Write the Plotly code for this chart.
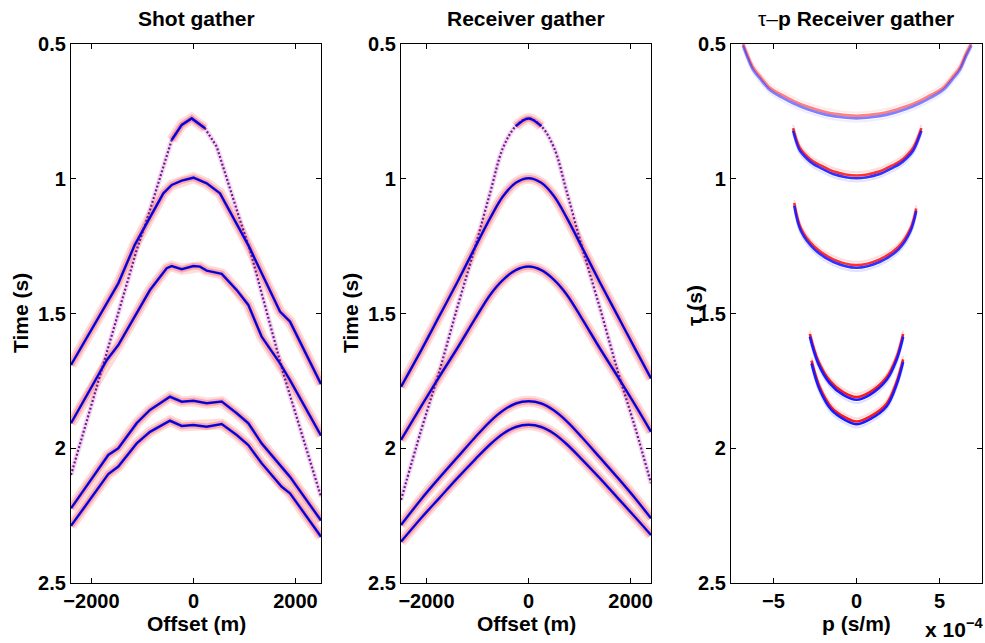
import plotly.graph_objects as go

# ---------------- data ----------------
# Shot gather: offset (m) / time (s) per event
shot_e1_off = [-2400, -1112, -852, -426, -230, -35, 226, 456, 912, 1108, 1761, 2500]
shot_e1_t   = [2.099, 1.264, 1.116, 0.856, 0.800, 0.776, 0.813, 0.881, 1.153, 1.264, 1.722, 2.180]
shot_e2_off = [-2400, -1473, -1150, -900, -590, -426, -230, 0, 260, 520, 800, 1090, 1696, 1892, 2500]
shot_e2_t   = [1.691, 1.388, 1.245, 1.160, 1.054, 1.023, 1.007, 0.996, 1.017, 1.054, 1.150, 1.252, 1.493, 1.530, 1.762]
shot_e3_off = [-2400, -1700, -1473, -1112, -852, -524, -426, -230, 0, 128, 260, 554, 848, 1075, 1337, 1696, 1892, 2500]
shot_e3_t   = [1.907, 1.673, 1.617, 1.499, 1.413, 1.332, 1.324, 1.336, 1.324, 1.326, 1.341, 1.353, 1.413, 1.468, 1.586, 1.685, 1.747, 1.953]
shot_e45_off = [-2400, -1669, -1473, -1112, -852, -460, -230, 0, 260, 554, 848, 1075, 1337, 1730, 1892, 2500]
shot_e4_t   = [2.223, 2.025, 2.000, 1.907, 1.858, 1.809, 1.827, 1.824, 1.833, 1.827, 1.870, 1.907, 1.982, 2.068, 2.106, 2.268]
shot_e5_t   = [2.288, 2.096, 2.068, 1.982, 1.939, 1.898, 1.917, 1.914, 1.920, 1.910, 1.951, 1.988, 2.056, 2.143, 2.167, 2.328]

# Receiver gather
rcv_off = [-2500, -2100, -1750, -1400, -1050, -750, -500, -250, 0, 250, 500, 750, 1050, 1400, 1750, 2100, 2400]
rcv_e1_t = [2.192, 1.930, 1.715, 1.480, 1.255, 1.050, 0.885, 0.805, 0.776, 0.805, 0.885, 1.050, 1.255, 1.480, 1.715, 1.930, 2.130]
rcv_e2_t = [1.772, 1.635, 1.510, 1.385, 1.255, 1.145, 1.065, 1.015, 0.998, 1.015, 1.065, 1.145, 1.255, 1.385, 1.510, 1.635, 1.741]
rcv_e3_t = [1.969, 1.843, 1.735, 1.630, 1.520, 1.430, 1.375, 1.339, 1.326, 1.339, 1.375, 1.430, 1.520, 1.630, 1.735, 1.843, 1.939]
rcv_e4_t = [2.285, 2.188, 2.110, 2.035, 1.960, 1.900, 1.860, 1.834, 1.826, 1.834, 1.860, 1.900, 1.960, 2.035, 2.110, 2.188, 2.260]
rcv_e5_t = [2.347, 2.258, 2.185, 2.112, 2.042, 1.985, 1.946, 1.921, 1.913, 1.921, 1.946, 1.985, 2.042, 2.112, 2.185, 2.258, 2.322]

# tau-p receiver gather: p in units of 1e-4 s/m, tau (s) of the blue lobe
tp1_p   = [-6.85, -6.6, -6.23, -5.8, -5.22, -4.5, -3.82, -3.0, -1.81, -0.9, 0, 0.9, 1.81, 3.0, 3.82, 4.5, 5.22, 5.8, 6.23, 6.6, 6.93]
tp1_tau = [0.505, 0.545, 0.596, 0.630, 0.671, 0.698, 0.720, 0.741, 0.763, 0.772, 0.776, 0.772, 0.763, 0.741, 0.720, 0.698, 0.671, 0.630, 0.596, 0.545, 0.505]
tp2_p   = [-3.82, -3.42, -3.0, -2.61, -2.0, -1.41, 0, 1.41, 2.0, 2.61, 3.0, 3.42, 3.91]
tp2_tau = [0.822, 0.895, 0.925, 0.945, 0.965, 0.982, 0.998, 0.982, 0.965, 0.945, 0.925, 0.895, 0.822]
tp3_p   = [-3.75, -3.34, -2.55, -1.39, 0, 1.39, 2.55, 3.25, 3.6]
tp3_tau = [1.100, 1.195, 1.261, 1.309, 1.330, 1.309, 1.261, 1.195, 1.120]
tp4_p   = [-2.81, -2.31, -1.61, -0.8, 0, 0.8, 1.81, 2.41, 2.81]
tp4_tau = [1.586, 1.685, 1.759, 1.802, 1.820, 1.802, 1.747, 1.673, 1.586]
tp5_p   = [-2.71, -2.21, -1.51, -0.7, 0, 0.8, 1.81, 2.41, 2.81]
tp5_tau = [1.685, 1.784, 1.858, 1.895, 1.911, 1.893, 1.845, 1.765, 1.680]

x_ticks_off = [-2000, 0, 2000]
x_ticks_p = [-5, 0, 5]
y_ticks = [0.5, 1, 1.5, 2, 2.5]
y_ticktext = ["0.5", "1", "1.5", "2", "2.5"]

# ---------------- figure ----------------
W, H = 985, 643
fig = go.Figure()

HALO_OUT = "rgba(255,150,150,0.33)"
HALO_IN = "rgba(255,100,100,0.45)"
BLUE = "#0a0aff"
NAVY = "rgba(0,0,90,0.8)"
PURP = "#62208f"


def line(x, y, xa, ya, color, width, shape="linear", dash="solid", opacity=1.0):
    fig.add_trace(go.Scatter(x=x, y=y, mode="lines", xaxis=xa, yaxis=ya,
                             line=dict(color=color, width=width, shape=shape, dash=dash),
                             opacity=opacity, hoverinfo="skip", showlegend=False))


def seg(xs, ys, lo, hi):
    pts = [(a, b) for a, b in zip(xs, ys) if lo <= a <= hi]
    return [p[0] for p in pts], [p[1] for p in pts]


def halo(xs, ys, xa, ya, shape="linear"):
    line(xs, ys, xa, ya, HALO_OUT, 11, shape=shape)
    line(xs, ys, xa, ya, HALO_IN, 6.5, shape=shape)


def core(xs, ys, xa, ya, shape="linear"):
    line(xs, ys, xa, ya, BLUE, 2.5, shape=shape)
    line(xs, ys, xa, ya, NAVY, 0.7, shape=shape)


# --- Shot gather (x, y) ---
shot_full = [(shot_e2_off, shot_e2_t), (shot_e3_off, shot_e3_t),
             (shot_e45_off, shot_e4_t), (shot_e45_off, shot_e5_t)]
line(shot_e1_off, shot_e1_t, "x", "y", "rgba(235,150,215,0.4)", 5)
for xs, ys in shot_full:
    halo(xs, ys, "x", "y")
a1x, a1y = seg(shot_e1_off, shot_e1_t, -430, 230)
halo(a1x, a1y, "x", "y")
line(shot_e1_off, shot_e1_t, "x", "y", PURP, 2.2, dash="2px,2px")
for xs, ys in shot_full + [(a1x, a1y)]:
    core(xs, ys, "x", "y")

# --- Receiver gather (x2, y2) ---
rcv_full = [rcv_e2_t, rcv_e3_t, rcv_e4_t, rcv_e5_t]
line(rcv_off, rcv_e1_t, "x2", "y2", "rgba(235,150,215,0.4)", 5, shape="spline")
for ys in rcv_full:
    halo(rcv_off, ys, "x2", "y2", shape="spline")
r1x, r1y = seg(rcv_off, rcv_e1_t, -260, 260)
halo(r1x, r1y, "x2", "y2", shape="spline")
line(rcv_off, rcv_e1_t, "x2", "y2", PURP, 2.2, shape="spline", dash="2px,2px")
for xs, ys in [(rcv_off, y) for y in rcv_full] + [(r1x, r1y)]:
    core(xs, ys, "x2", "y2", shape="spline")

# --- tau-p gather (x3, y3) ---
RED_SHIFT = 0.010  # red lobe sits just above the blue lobe
for ps, ts, op in [(tp1_p, tp1_tau, 0.55), (tp2_p, tp2_tau, 0.9), (tp3_p, tp3_tau, 0.9),
                   (tp4_p, tp4_tau, 1.0), (tp5_p, tp5_tau, 1.0)]:
    line(ps, [t - 2.2 * RED_SHIFT for t in ts], "x3", "y3", "rgba(255,150,150,0.35)", 2, shape="spline", opacity=op)
    line(ps, [t + 1.2 * RED_SHIFT for t in ts], "x3", "y3", "rgba(150,150,255,0.30)", 2, shape="spline", opacity=op)
    line(ps, [t - RED_SHIFT for t in ts], "x3", "y3", "#ff1a1a", 2.6, shape="spline", opacity=op)
    line(ps, ts, "x3", "y3", "#1a1aff", 2.6, shape="spline", opacity=op)

# ---------------- axes ----------------
FONT = "Liberation Sans, Arial, Helvetica, sans-serif"
tickfont = dict(family=FONT, size=20, color="black", weight="bold")
ydom = [1 - 583 / H, 1 - 44 / H]
xdoms = [[71 / W, 321 / W], [401 / W, 651 / W], [731 / W, 982 / W]]
xranges = [[-2400, 2500], [-2500, 2400], [-7.56, 7.56]]
xtv = [x_ticks_off, x_ticks_off, x_ticks_p]

base = dict(showline=True, linecolor="black", linewidth=1.3, mirror="allticks",
            ticks="inside", ticklen=5, tickwidth=1, tickcolor="black",
            showgrid=False, zeroline=False, tickfont=tickfont, fixedrange=True,
            automargin=False)

for i in range(3):
    sfx = "" if i == 0 else str(i + 1)
    fig.update_layout(**{
        "xaxis" + sfx: dict(base, domain=xdoms[i], range=xranges[i], tickvals=xtv[i],
                            anchor="y" + sfx),
        "yaxis" + sfx: dict(base, domain=ydom, range=[2.5, 0.5], tickvals=y_ticks,
                            ticktext=y_ticktext, anchor="x" + sfx),
    })

# ---------------- text ----------------
ann = []


def text(s, x, y, size=21, angle=0, xanchor="center", yanchor="middle", weight="bold"):
    ann.append(dict(text=s, x=x / W, y=1 - y / H, xref="paper", yref="paper",
                    showarrow=False, textangle=angle, xanchor=xanchor, yanchor=yanchor,
                    font=dict(family=FONT, size=size, color="black", weight=weight)))


text("Shot gather", 196, 19)
text("Receiver gather", 526, 19)
text("τ–<b>p Receiver gather</b>", 856, 19, weight="normal")
text("Offset (m)", 196, 623)
text("Offset (m)", 526, 623)
text("p (s/m)", 856, 623)
text("Time (s)", 20, 313, angle=-90)
text("Time (s)", 350, 313, angle=-90)
text("τ (s)", 694, 306, angle=-90)
text("x 10<sup>−4</sup>", 985, 628, size=21, xanchor="right")

fig.update_layout(width=W, height=H, margin=dict(l=0, r=0, t=0, b=0),
                  paper_bgcolor="white", plot_bgcolor="white", annotations=ann,
                  showlegend=False)

fig.write_html("out.html")
